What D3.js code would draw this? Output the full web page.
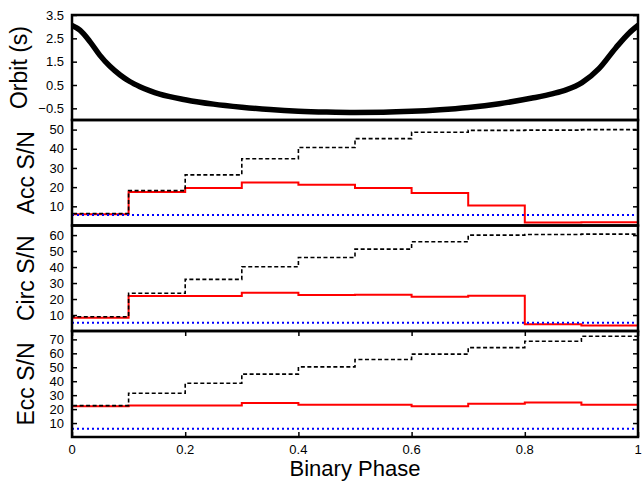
<!DOCTYPE html>
<html>
<head>
<meta charset="utf-8">
<script src="https://cdn.jsdelivr.net/npm/d3@7"></script>
<style>
  html, body { margin: 0; padding: 0; background: #fff; }
  svg { display: block; font-family: "Liberation Sans", Arial, Helvetica, sans-serif; }
</style>
</head>
<body>
<svg id="chart" width="642" height="483"></svg>
<script>
// ---- data ----
const orbitPhase = [0.000, 0.014, 0.032, 0.049, 0.067, 0.085, 0.102, 0.120, 0.138, 0.155, 0.200, 0.250, 0.300, 0.350, 0.400, 0.450, 0.500, 0.550, 0.600, 0.650, 0.700, 0.755, 0.813, 0.850, 0.873, 0.901, 0.931, 0.961, 0.984, 1.000];
const orbitDelay = [3.05, 2.85, 2.35, 1.78, 1.30, 0.93, 0.65, 0.43, 0.25, 0.11, -0.13, -0.32, -0.45, -0.55, -0.62, -0.66, -0.68, -0.67, -0.63, -0.56, -0.46, -0.30, -0.06, 0.13, 0.29, 0.60, 1.20, 2.10, 2.72, 3.05];

const binStart = [0.0, 0.1, 0.2, 0.3, 0.4, 0.5, 0.6, 0.7, 0.8, 0.9];
const accSN   = [5.9, 17.5, 19.5, 22.4, 21.2, 19.5, 16.9, 10.4, 1.5, 1.7];
const accCum  = [6.2, 18.2, 26.4, 34.8, 40.7, 45.3, 48.6, 49.6, 49.7, 50.0];
const circSN  = [8.3, 21.9, 21.9, 23.9, 22.5, 22.6, 21.4, 22.0, 4.2, 3.5];
const circCum = [8.9, 23.6, 32.3, 40.2, 46.0, 51.2, 55.8, 60.0, 60.4, 60.6];
const eccSN   = [22.0, 22.6, 22.6, 24.3, 23.1, 23.1, 22.0, 23.8, 24.7, 23.1];
const eccCum  = [22.5, 31.4, 38.5, 45.1, 50.3, 55.6, 59.4, 64.1, 68.6, 72.2];
const threshold = [5.5, 5.2, 6.0];

const orbitTicks = [-0.5, 0.5, 1.5, 2.5, 3.5];
const accTicks = [10, 20, 30, 40, 50];
const circTicks = [10, 20, 30, 40, 50, 60];
const eccTicks = [10, 20, 30, 40, 50, 60, 70];
const xTicks = [0, 0.2, 0.4, 0.6, 0.8, 1];
const titles = ["Orbit (s)", "Acc S/N", "Circ S/N", "Ecc S/N"];
const xTitle = "Binary Phase";

// ---- layout ----
const svg = d3.select("#chart");
const left = 72, right = 638;
const tops = [15, 120, 225.5, 331, 437];
const x = d3.scaleLinear().domain([0, 1]).range([left, right]);

const panels = [
  { domain: [-1, 3.5], ticks: orbitTicks, fmt: d3.format(".1f") },
  { domain: [0, 55], ticks: accTicks, fmt: d3.format("d"), sn: accSN, cum: accCum, th: threshold[0] },
  { domain: [0, 66], ticks: circTicks, fmt: d3.format("d"), sn: circSN, cum: circCum, th: threshold[1] },
  { domain: [0, 76], ticks: eccTicks, fmt: d3.format("d"), sn: eccSN, cum: eccCum, th: threshold[2] }
];

const defs = svg.append("defs");

panels.forEach((p, i) => {
  const top = tops[i], bottom = tops[i + 1];
  const y = d3.scaleLinear().domain(p.domain).range([bottom, top]);
  const g = svg.append("g");
  const clipId = "clip" + i;
  defs.append("clipPath").attr("id", clipId)
    .append("rect").attr("x", left).attr("y", top).attr("width", right - left).attr("height", bottom - top);

  const plot = g.append("g").attr("clip-path", `url(#${clipId})`);

  if (i === 0) {
    const pts = orbitPhase.map((ph, k) => [ph, orbitDelay[k]]);
    plot.append("path")
      .attr("d", d3.line().x(d => x(d[0])).y(d => y(d[1])).curve(d3.curveMonotoneX)(pts))
      .attr("fill", "none").attr("stroke", "#000").attr("stroke-width", 5.5)
      .attr("stroke-linecap", "round");
  } else {
    const stepLine = d3.line().x(d => x(d[0])).y(d => y(d[1])).curve(d3.curveStepAfter);
    const mk = arr => [[0, 0]].concat(binStart.map((b, k) => [b, arr[k]])).concat([[1, arr[arr.length - 1]]]);
    plot.append("path").attr("d", stepLine(mk(p.sn)))
      .attr("fill", "none").attr("stroke", "#ff0000").attr("stroke-width", 2);
    plot.append("path").attr("d", stepLine(mk(p.cum)))
      .attr("fill", "none").attr("stroke", "#000").attr("stroke-width", 1.6)
      .attr("stroke-dasharray", "4,2.5");
    plot.append("path").attr("d", d3.line().x(d => x(d[0])).y(d => y(d[1]))([[0, p.th], [1, p.th]]))
      .attr("fill", "none").attr("stroke", "#0000ff").attr("stroke-width", 2)
      .attr("stroke-dasharray", "2,3");
  }

  // y axis ticks left/right (inward) and labels
  const yAxisL = d3.axisRight(y).tickValues(p.ticks).tickSize(5).tickFormat("");
  g.append("g").attr("transform", `translate(${left},0)`).call(yAxisL)
    .call(s => s.select(".domain").remove())
    .call(s => s.selectAll("line").attr("stroke", "#000").attr("stroke-width", 1.5));
  const yAxisR = d3.axisLeft(y).tickValues(p.ticks).tickSize(5).tickFormat("");
  g.append("g").attr("transform", `translate(${right},0)`).call(yAxisR)
    .call(s => s.select(".domain").remove())
    .call(s => s.selectAll("line").attr("stroke", "#000").attr("stroke-width", 1.5));
  g.selectAll(".ylab").data(p.ticks).enter().append("text")
    .attr("x", left - 8).attr("y", d => y(d)).attr("dy", "0.35em")
    .attr("text-anchor", "end").attr("font-size", 13).attr("fill", "#000")
    .text(d => p.fmt(d));

  // frame
  g.append("rect").attr("x", left).attr("y", top).attr("width", right - left).attr("height", bottom - top)
    .attr("fill", "none").attr("stroke", "#000").attr("stroke-width", 2.5);

  // title
  const tx = i === 0 ? 26.5 : 34;
  g.append("text").attr("transform", `translate(${tx},${(top + bottom) / 2}) rotate(-90)`)
    .attr("text-anchor", "middle").attr("font-size", 23).attr("fill", "#000")
    .text(titles[i]);

  // x ticks only on the bottom panel (top and bottom edges, inward)
  if (i === 3) {
    const xb = d3.axisTop(x).tickValues(xTicks).tickSize(5).tickFormat("");
    g.append("g").attr("transform", `translate(0,${bottom})`).call(xb)
      .call(s => s.select(".domain").remove())
      .call(s => s.selectAll("line").attr("stroke", "#000").attr("stroke-width", 1.5));
    const xt = d3.axisBottom(x).tickValues(xTicks).tickSize(5).tickFormat("");
    g.append("g").attr("transform", `translate(0,${top})`).call(xt)
      .call(s => s.select(".domain").remove())
      .call(s => s.selectAll("line").attr("stroke", "#000").attr("stroke-width", 1.5));
    g.selectAll(".xlab").data(xTicks).enter().append("text")
      .attr("x", d => x(d)).attr("y", bottom + 16.5)
      .attr("text-anchor", "middle").attr("font-size", 13).attr("fill", "#000")
      .text(d => d === 0 || d === 1 ? d3.format("d")(d) : d3.format(".1f")(d));
  }
});

svg.append("text").attr("x", (left + right) / 2).attr("y", 476)
  .attr("text-anchor", "middle").attr("font-size", 22).attr("fill", "#000")
  .text(xTitle);
</script>
</body>
</html>
